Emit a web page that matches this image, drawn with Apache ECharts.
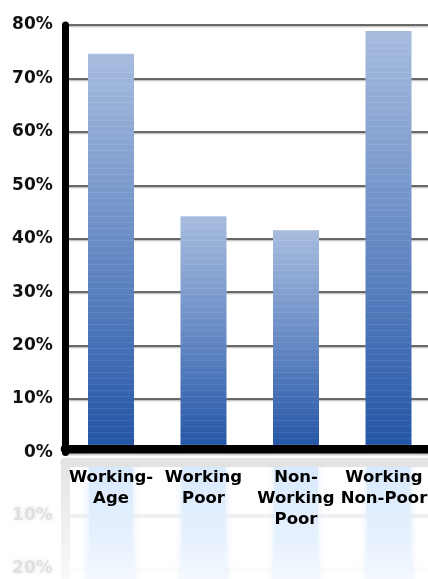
<!DOCTYPE html>
<html><head><meta charset="utf-8">
<script src="https://cdn.jsdelivr.net/npm/echarts@6/dist/echarts.min.js"></script>
<style>html,body{margin:0;padding:0;background:#fff}#c{width:428px;height:579px}</style>
</head><body><div id="c"></div>
<script>
const categories = ['Working-\nAge', 'Working\nPoor', 'Non-\nWorking\nPoor', 'Working\nNon-Poor'];
const values = [74.6, 44.2, 41.6, 78.9];
const yMin = 0, yMax = 80, yStep = 10;
const reflectedTickLabels = [10, 20];

const chart = echarts.init(document.getElementById('c'), null, {renderer: 'canvas'});
const font = 'DejaVu Sans';
const barGradient = {
  type: 'linear', x: 0, y: 0, x2: 0, y2: 1,
  colorStops: [
    {offset: 0, color: '#a7bcde'},
    {offset: 0.45, color: '#6d8fc7'},
    {offset: 1, color: '#2153a5'}
  ]
};
const reflGradient = {
  type: 'linear', x: 0, y: 462, x2: 0, y2: 600, global: true,
  colorStops: [
    {offset: 0, color: '#d7e8fd'},
    {offset: 0.55, color: '#e6f1fe'},
    {offset: 1, color: '#fcfdff'}
  ]
};
const fadeGray = {
  type: 'linear', x: 0, y: 462, x2: 0, y2: 590, global: true,
  colorStops: [{offset: 0, color: '#e4e4e4'}, {offset: 1, color: '#fbfbfb'}]
};

// last label nudged left so it stays inside the frame, as in the reference
const catData = categories.map((c, i) => i === categories.length - 1
  ? {value: c, textStyle: {padding: [0, 9, 0, 0]}} : c);

chart.setOption({
  animation: false,
  backgroundColor: '#fff',
  grid: [
    {left: 64.75, top: 25, width: 370, height: 427.5, outerBoundsMode: 'none', containLabel: false},
    {left: 64.75, top: 462, width: 370, height: 427.5, outerBoundsMode: 'none', containLabel: false}
  ],
  xAxis: [
    {
      gridIndex: 0, type: 'category', data: catData, z: 10, offset: -4,
      axisLine: {show: true, lineStyle: {color: '#000', width: 8}},
      axisTick: {show: false},
      axisLabel: {
        interval: 0, margin: 19, color: '#000', fontFamily: font, fontWeight: 'bold',
        fontSize: 16.5, lineHeight: 21, verticalAlign: 'top'
      }
    },
    {
      gridIndex: 1, type: 'category', data: categories, position: 'top', z: 5,
      axisLine: {show: true, lineStyle: {color: '#e3e3e3', width: 9}},
      axisTick: {show: false},
      axisLabel: {show: false}
    }
  ],
  yAxis: [
    {
      gridIndex: 0, type: 'value', min: yMin, max: yMax, interval: yStep,
      axisLine: {show: true, lineStyle: {color: '#000', width: 7}},
      axisTick: {show: false},
      axisLabel: {
        margin: 12, color: '#111', fontFamily: font, fontWeight: 'bold', fontSize: 17,
        formatter: v => v + '%'
      },
      splitLine: {show: true, lineStyle: {color: '#3a3a3a', width: 1.6, shadowColor: 'rgba(0,0,0,0.25)', shadowOffsetY: 1.5, shadowBlur: 1}}
    },
    {
      gridIndex: 1, type: 'value', min: yMin, max: yMax, interval: yStep, inverse: true,
      axisLine: {show: true, lineStyle: {color: fadeGray, width: 9}},
      axisTick: {show: false},
      axisLabel: {
        margin: 12, color: 'rgba(205,205,205,0.5)', fontFamily: font, fontWeight: 'bold', fontSize: 17,
        textShadowColor: 'rgba(195,195,195,0.8)', textShadowBlur: 4,
        formatter: v => reflectedTickLabels.indexOf(v) >= 0 ? v + '%' : ''
      },
      splitLine: {show: true, lineStyle: {color: ['#ffffff', '#f0f0f0', '#fbfbfb', '#ffffff', '#ffffff', '#ffffff', '#ffffff', '#ffffff', '#ffffff'], width: 4}}
    }
  ],
  series: [
    {
      type: 'bar', xAxisIndex: 0, yAxisIndex: 0, data: values, barWidth: 46,
      itemStyle: {
        color: barGradient,
        decal: {symbol: 'rect', dashArrayX: [1, 0], dashArrayY: [1, 5], color: 'rgba(255,255,255,0.08)', rotation: 0}
      }
    },
    {
      type: 'bar', xAxisIndex: 1, yAxisIndex: 1, data: values, barWidth: 44,
      itemStyle: {color: reflGradient, shadowColor: 'rgba(220,235,253,0.9)', shadowBlur: 8}
    }
  ]
});
</script>
</body></html>
